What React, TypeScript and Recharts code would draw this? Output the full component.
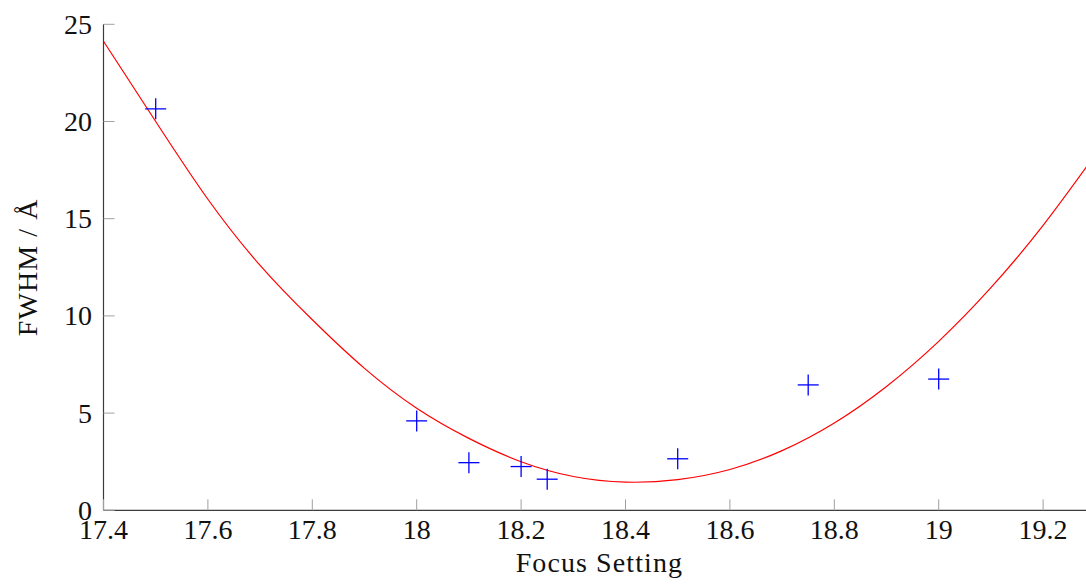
import { ComposedChart, Line, Scatter, XAxis, YAxis, Label } from 'recharts'

// measured FWHM per focus setting
const focusSetting = [17.5, 18.0, 18.1, 18.2, 18.25, 18.5, 18.75, 19.0]
const fwhm = [20.65, 4.6, 2.45, 2.25, 1.6, 2.65, 6.45, 6.75]

// fitted curve, every 0.1
const fitFocus = [
  17.4, 17.5, 17.6, 17.7, 17.8, 17.9, 18.0, 18.1, 18.2, 18.3,
  18.4, 18.5, 18.6, 18.7, 18.8, 18.9, 19.0, 19.1, 19.2, 19.3,
]
const fitFwhm = [
  24.13, 20.0, 16.0, 12.6, 9.8, 7.3, 5.25, 3.7, 2.5, 1.74,
  1.45, 1.58, 2.1, 3.07, 4.49, 6.37, 8.69, 11.45, 14.66, 18.3,
]

const xTicks = [17.4, 17.6, 17.8, 18, 18.2, 18.4, 18.6, 18.8, 19, 19.2]
const yTicks = [0, 5, 10, 15, 20, 25]

const measured = focusSetting.map((f, i) => ({ focus: f, fwhm: fwhm[i] }))
const fit = fitFocus.map((f, i) => ({ focus: f, fit: fitFwhm[i] }))

const FONT = 'Liberation Serif'
const FONT_SIZE = 28
const TEXT = '#111'
const TICK_COLOR = '#a0a0a0'
const AXIS_COLOR = '#3c3c3c'
const TICK_LEN = 11

function BottomTick({ x, y, payload }: any) {
  return (
    <g>
      <line x1={x} y1={y} x2={x} y2={y - TICK_LEN} stroke={TICK_COLOR} strokeWidth={1} />
      <text x={x} y={y + 29} textAnchor="middle" fontFamily={FONT} fontSize={FONT_SIZE} fill={TEXT} stroke="none">
        {payload.value}
      </text>
    </g>
  )
}

function TopTick({ x, y }: any) {
  return <line x1={x} y1={y} x2={x} y2={y + TICK_LEN} stroke={TICK_COLOR} strokeWidth={1} />
}

function LeftTick({ x, y, payload }: any) {
  return (
    <g>
      <line x1={x} y1={y} x2={x + TICK_LEN} y2={y} stroke={TICK_COLOR} strokeWidth={1} />
      <text x={x - 11.5} y={y} dy="0.34em" textAnchor="end" fontFamily={FONT} fontSize={FONT_SIZE} fill={TEXT} stroke="none">
        {payload.value}
      </text>
    </g>
  )
}

function RightTick({ x, y }: any) {
  return <line x1={x} y1={y} x2={x - TICK_LEN} y2={y} stroke={TICK_COLOR} strokeWidth={1} />
}

function PlusMarker({ cx, cy }: any) {
  const r = 10.5
  return (
    <g stroke="#0000ff" strokeWidth={1.3}>
      <line x1={cx - r} y1={cy} x2={cx + r} y2={cy} />
      <line x1={cx} y1={cy - r} x2={cx} y2={cy + r} />
    </g>
  )
}

function XTitle({ viewBox }: any) {
  const { x, y, width } = viewBox
  return (
    <text x={x + width / 2} y={y + 62} textAnchor="middle" fontFamily={FONT} fontSize={FONT_SIZE}
      letterSpacing={1.1} fill={TEXT} stroke="none">
      Focus Setting
    </text>
  )
}

function YTitle({ viewBox }: any) {
  const { x, y, height } = viewBox
  const cx = x + 23.5
  const cy = y + height / 2
  return (
    <text x={cx} y={cy} transform={`rotate(-90, ${cx}, ${cy})`} textAnchor="middle" fontFamily={FONT}
      fontSize={FONT_SIZE} letterSpacing={1.1} fill={TEXT} stroke="none">
      FWHM / Å
    </text>
  )
}

export default function App() {
  return (
    <div style={{ position: 'absolute', left: 0, top: 0, width: 1086, height: 585, overflow: 'hidden', background: '#fff', fontFamily: FONT }}>
      <ComposedChart width={1100} height={585} margin={{ top: 24.3, right: 4.7, bottom: 14.7, left: 13.5 }}
        style={{ fontFamily: FONT }}>
        <XAxis
          dataKey="focus"
          type="number"
          domain={[17.4, 19.3]}
          allowDataOverflow
          ticks={xTicks}
          interval={0}
          height={60}
          tickSize={0}
          tickMargin={0}
          tickLine={false}
          tick={<BottomTick />}
          axisLine={{ stroke: AXIS_COLOR, strokeWidth: 1.2 }}
        >
          <Label content={<XTitle />} />
        </XAxis>
        <XAxis
          xAxisId="top"
          orientation="top"
          dataKey="focus"
          type="number"
          domain={[17.4, 19.3]}
          allowDataOverflow
          ticks={xTicks}
          interval={0}
          height={0}
          tickSize={0}
          tickMargin={0}
          tickLine={false}
          tick={<TopTick />}
          axisLine={{ stroke: AXIS_COLOR, strokeWidth: 1.2 }}
        />
        <YAxis
          type="number"
          domain={[0, 25]}
          ticks={yTicks}
          interval={0}
          width={90}
          tickSize={0}
          tickMargin={0}
          tickLine={false}
          tick={<LeftTick />}
          axisLine={{ stroke: AXIS_COLOR, strokeWidth: 1.2 }}
        >
          <Label content={<YTitle />} />
        </YAxis>
        <YAxis
          yAxisId="right"
          orientation="right"
          type="number"
          domain={[0, 25]}
          ticks={yTicks}
          interval={0}
          width={0}
          tickSize={0}
          tickMargin={0}
          tickLine={false}
          tick={<RightTick />}
          axisLine={{ stroke: AXIS_COLOR, strokeWidth: 1.2 }}
        />
        <Line
          data={fit}
          dataKey="fit"
          type="natural"
          stroke="#ff0000"
          strokeWidth={1.2}
          dot={false}
          activeDot={false}
          isAnimationActive={false}
        />
        <Scatter data={measured} dataKey="fwhm" shape={<PlusMarker />} isAnimationActive={false} />
      </ComposedChart>
    </div>
  )
}
